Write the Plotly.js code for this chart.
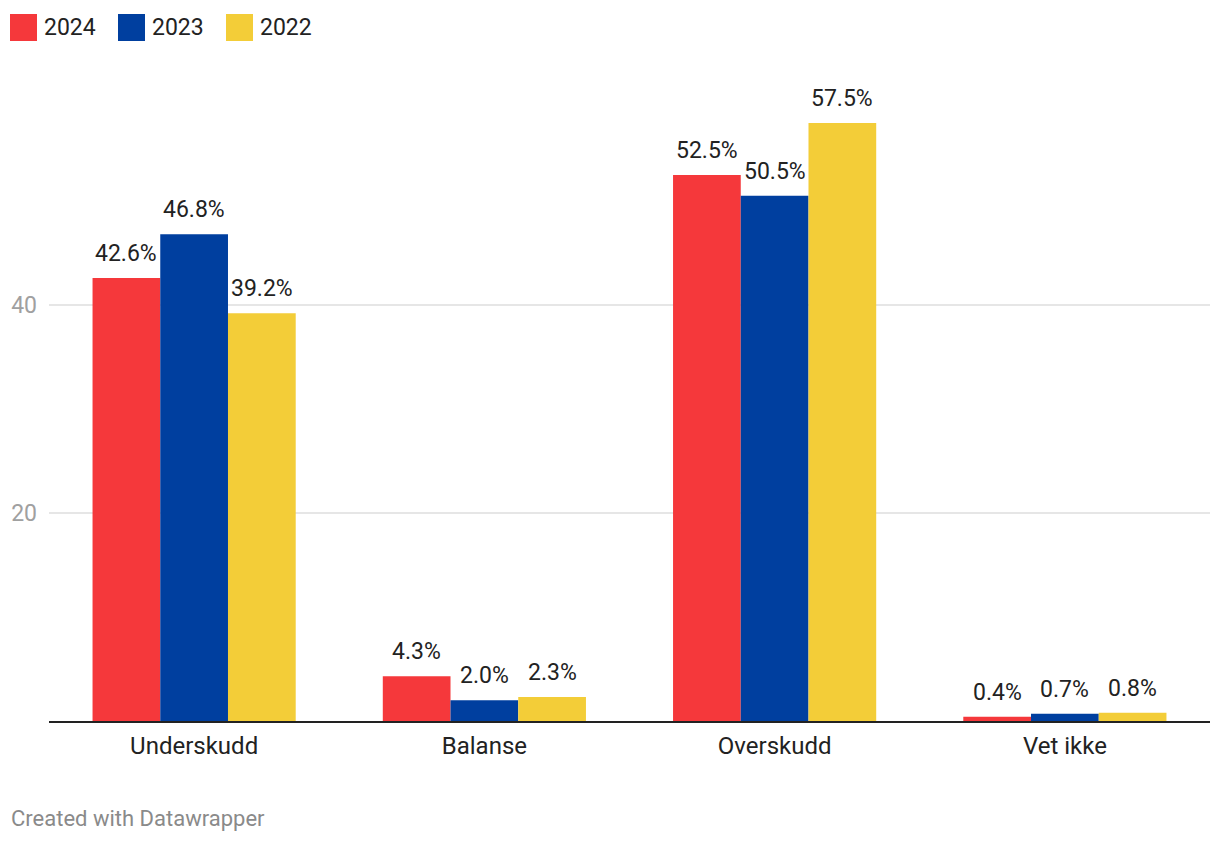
<!DOCTYPE html>
<html>
<head>
<meta charset="utf-8">
<script src="https://cdn.plot.ly/plotly-3.0.1.min.js"></script>
<style>
  html, body { margin: 0; padding: 0; background: #ffffff; }
  #chart { width: 1220px; height: 844px; }
</style>
</head>
<body>
<div id="chart"></div>
<script>
// ---- data ----
const categories = ['Underskudd', 'Balanse', 'Overskudd', 'Vet ikke'];
const seriesNames = ['2024', '2023', '2022'];
const values2024 = [42.6, 4.3, 52.5, 0.4];
const values2023 = [46.8, 2.0, 50.5, 0.7];
const values2022 = [39.2, 2.3, 57.5, 0.8];
const yTickValues = [20, 40];
const creditText = 'Created with Datawrapper';

// ---- styles ----
const seriesColors = ['#f5383b', '#003f9f', '#f3cd38'];
const FONT = 'Roboto, "Noto Sans", sans-serif';
const BARGAP = 0.3;
const seriesValues = [values2024, values2023, values2022];

const W = 1220, H = 844;
const margin = { l: 49, r: 10, t: 80, b: 123 };
const plotW = W - margin.l - margin.r;
const plotH = H - margin.t - margin.b;
const pxPerUnit = 10.4;
const yMax = plotH / pxPerUnit;

const traces = seriesValues.map((vals, j) => ({
  type: 'bar',
  name: seriesNames[j],
  x: categories,
  y: vals,
  marker: { color: seriesColors[j], line: { width: 0 } },
  hoverinfo: 'x+y+name',
  showlegend: false
}));

// value labels above bars, placed via the axis scales
const nS = seriesValues.length;
const barW = (1 - BARGAP) / nS;
const annotations = [];
seriesValues.forEach((vals, j) => {
  vals.forEach((v, i) => {
    annotations.push({
      x: i + (j - (nS - 1) / 2) * barW,
      y: v,
      xref: 'x', yref: 'y',
      text: v.toFixed(1) + '%',
      showarrow: false,
      xanchor: 'center', yanchor: 'bottom',
      yshift: 9,
      font: { family: FONT, size: 23, color: '#222222' }
    });
  });
});

// custom legend (large squares) in paper coordinates
const shapes = [];
const toPaperX = px => (px - margin.l) / plotW;
const toPaperY = py => (H - margin.b - py) / plotH;
const legendStartX = 10, legendStep = 108, sq = 27, legendTop = 14;
seriesNames.forEach((name, j) => {
  const x0 = legendStartX + j * legendStep;
  shapes.push({
    type: 'rect', xref: 'paper', yref: 'paper', layer: 'above',
    x0: toPaperX(x0), x1: toPaperX(x0 + sq),
    y0: toPaperY(legendTop + sq), y1: toPaperY(legendTop),
    fillcolor: seriesColors[j], line: { width: 0 }
  });
  annotations.push({
    xref: 'paper', yref: 'paper',
    x: toPaperX(x0 + sq + 5), y: toPaperY(legendTop + sq / 2),
    xanchor: 'left', yanchor: 'middle',
    text: name, showarrow: false,
    font: { family: FONT, size: 23, color: '#222222' }
  });
});

annotations.push({
  xref: 'paper', yref: 'paper',
  x: toPaperX(9), y: toPaperY(833),
  xanchor: 'left', yanchor: 'bottom',
  text: creditText, showarrow: false,
  font: { family: FONT, size: 22, color: '#8a8a8a' }
});

const layout = {
  width: W, height: H,
  margin: margin,
  paper_bgcolor: '#ffffff',
  plot_bgcolor: '#ffffff',
  barmode: 'group',
  bargap: BARGAP,
  bargroupgap: 0,
  showlegend: false,
  font: { family: FONT, size: 23, color: '#222222' },
  xaxis: {
    type: 'category',
    showgrid: false,
    showline: true, linecolor: '#222222', linewidth: 2,
    ticks: '',
    ticklabelstandoff: 2,
    tickfont: { family: FONT, size: 24, color: '#222222' },
    fixedrange: true
  },
  yaxis: {
    range: [0, yMax],
    tickvals: yTickValues,
    ticktext: yTickValues.map(String),
    showgrid: true, gridcolor: '#e6e6e6', gridwidth: 2,
    zeroline: false, showline: false,
    ticks: '',
    ticklabelstandoff: 11,
    tickfont: { family: FONT, size: 23, color: '#a0a0a0' },
    fixedrange: true
  },
  shapes: shapes,
  annotations: annotations
};

Plotly.newPlot('chart', traces, layout, { displayModeBar: false, staticPlot: true });
</script>
</body>
</html>
